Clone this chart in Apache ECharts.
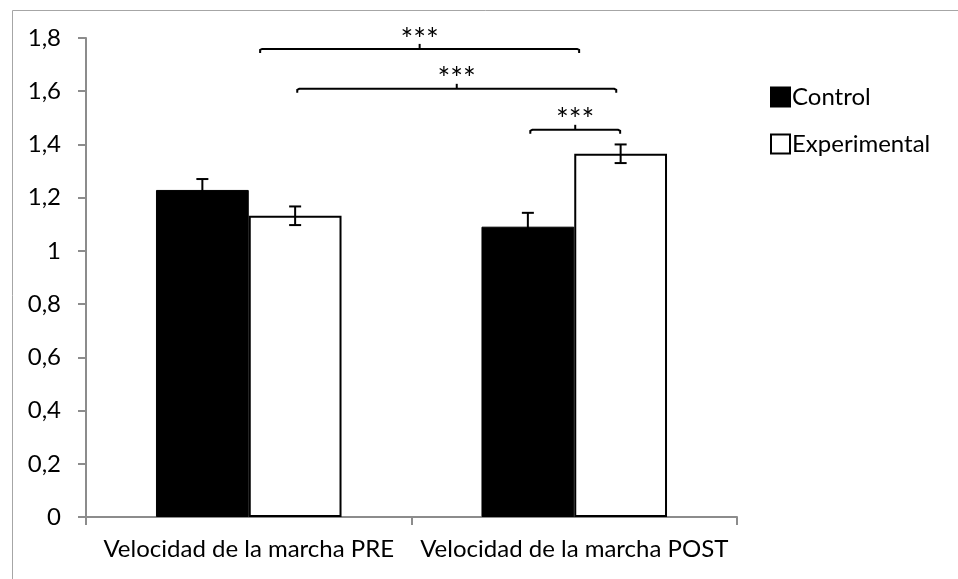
<!DOCTYPE html>
<html>
<head>
<meta charset="utf-8">
<script src="https://cdn.jsdelivr.net/npm/echarts@6/dist/echarts.min.js"></script>
<style>
  html, body { margin: 0; padding: 0; background: #fff; }
  #chart { width: 958px; height: 579px; }
</style>
</head>
<body>
<div id="chart"></div>
<script>
// Gait speed, pre and post intervention, by group
const categories = ['Velocidad de la marcha PRE', 'Velocidad de la marcha POST'];
const seriesNames = ['Control', 'Experimental'];
const controlMean = [1.229, 1.091];
const controlErr = [0.041, 0.052];
const experimentalMean = [1.132, 1.365];
const experimentalErr = [0.035, 0.035];

// Value axis ticks
const yMin = 0;
const yMax = 1.8;
const yStep = 0.2;

// Significance brackets (x on a 0..2 scale spanning the two categories)
const bracketStart = [0.535, 0.649, 1.365];
const bracketEnd = [1.515, 1.629, 1.641];
const bracketLevel = [1.759, 1.609, 1.455];
const bracketLabel = ['***', '***', '***'];

const FONT = 'Lato';
const FS = 24;
const BAR_CAT_GAP = 0.43;

const chart = echarts.init(document.getElementById('chart'), null, { renderer: 'canvas' });

function errorBarRenderer(groupIndex, groupCount) {
  return function (params, api) {
    const cat = api.value(0);
    const lo = api.value(1);
    const hi = api.value(2);
    const band = api.size([1, 0])[0];
    const barW = band * (1 - BAR_CAT_GAP) / groupCount;
    const center = api.coord([cat, 0])[0] - band * (1 - BAR_CAT_GAP) / 2 + barW * (groupIndex + 0.5);
    const yLo = api.coord([cat, lo])[1];
    const yHi = api.coord([cat, hi])[1];
    const cap = 6;
    const st = { stroke: '#000', lineWidth: 2 };
    return {
      type: 'group',
      children: [
        { type: 'line', shape: { x1: center, y1: yLo, x2: center, y2: yHi }, style: st },
        { type: 'line', shape: { x1: center - cap, y1: yHi, x2: center + cap, y2: yHi }, style: st },
        { type: 'line', shape: { x1: center - cap, y1: yLo, x2: center + cap, y2: yLo }, style: st }
      ]
    };
  };
}

function bracketRenderer(params, api) {
  const x1 = api.coord([api.value(0), api.value(2)])[0];
  const x2 = api.coord([api.value(1), api.value(2)])[0];
  const y = api.coord([api.value(0), api.value(2)])[1];
  const xm = (x1 + x2) / 2;
  const drop = 4;
  const rise = 5;
  const st = { stroke: '#000', lineWidth: 2, fill: null };
  return {
    type: 'group',
    children: [
      { type: 'polyline', shape: { points: [[x1, y + drop], [x1, y + 1], [x1 + 2, y], [x2 - 2, y], [x2, y + 1], [x2, y + drop]] }, style: st },
      { type: 'line', shape: { x1: xm, y1: y, x2: xm, y2: y - rise }, style: st },
      {
        type: 'text', x: xm, y: y - 9,
        style: { text: bracketLabel[params.dataIndex], fontSize: 30, fontFamily: FONT, fill: '#000', align: 'center', verticalAlign: 'middle' }
      }
    ]
  };
}

const errControlData = categories.map((c, i) => [i, controlMean[i] - controlErr[i], controlMean[i] + controlErr[i]]);
const errExpData = categories.map((c, i) => [i, experimentalMean[i] - experimentalErr[i], experimentalMean[i] + experimentalErr[i]]);
const bracketData = bracketStart.map((s, i) => [s, bracketEnd[i], bracketLevel[i]]);

const axisGrey = '#8c8c8c';

chart.setOption({
  animation: false,
  textStyle: { fontFamily: FONT },
  graphic: [
    { type: 'rect', left: 10, top: 8, shape: { width: 1000, height: 700 }, style: { fill: 'none', stroke: '#a6a6a6', lineWidth: 1 }, silent: true, z: -10 }
  ],
  grid: { left: 86, right: 221, top: 38, bottom: 62, containLabel: false },
  legend: {
    orient: 'vertical',
    left: 770,
    top: 85,
    padding: 0,
    itemWidth: 19,
    itemHeight: 19,
    itemGap: 23,
    icon: 'rect',
    textStyle: { fontSize: FS, color: '#000', fontFamily: FONT, padding: [0, 0, 0, -3] },
    data: seriesNames
  },
  xAxis: [
    {
      type: 'category',
      data: categories,
      axisLine: { lineStyle: { color: axisGrey, width: 2 } },
      axisTick: { show: true, length: 8, lineStyle: { color: axisGrey, width: 2 } },
      axisLabel: { color: '#000', fontSize: FS, margin: 20, fontFamily: FONT, interval: 0 },
      splitLine: { show: false }
    },
    {
      type: 'value',
      min: 0,
      max: 2,
      show: false
    }
  ],
  yAxis: {
    type: 'value',
    min: yMin,
    max: yMax,
    interval: yStep,
    axisLine: { show: true, lineStyle: { color: axisGrey, width: 2 } },
    axisTick: { show: true, length: 8, lineStyle: { color: axisGrey, width: 2 } },
    axisLabel: {
      color: '#000',
      fontSize: FS,
      margin: 25,
      fontFamily: FONT,
      formatter: v => String(Math.round(v * 10) / 10).replace('.', ',')
    },
    splitLine: { show: false }
  },
  series: [
    {
      name: 'Control',
      type: 'bar',
      data: controlMean,
      barGap: '0%',
      barCategoryGap: (BAR_CAT_GAP * 100) + '%',
      itemStyle: { color: '#000', borderColor: '#000', borderWidth: 1 }
    },
    {
      name: 'Experimental',
      type: 'bar',
      data: experimentalMean,
      barGap: '0%',
      barCategoryGap: (BAR_CAT_GAP * 100) + '%',
      itemStyle: { color: '#fff', borderColor: '#000', borderWidth: 2 }
    },
    {
      type: 'custom',
      renderItem: errorBarRenderer(0, 2),
      data: errControlData,
      encode: { x: 0, y: [1, 2] },
      z: 5
    },
    {
      type: 'custom',
      renderItem: errorBarRenderer(1, 2),
      data: errExpData,
      encode: { x: 0, y: [1, 2] },
      z: 5
    },
    {
      type: 'custom',
      xAxisIndex: 1,
      renderItem: bracketRenderer,
      data: bracketData,
      encode: { x: [0, 1], y: 2 },
      z: 6
    }
  ]
});
</script>
</body>
</html>
